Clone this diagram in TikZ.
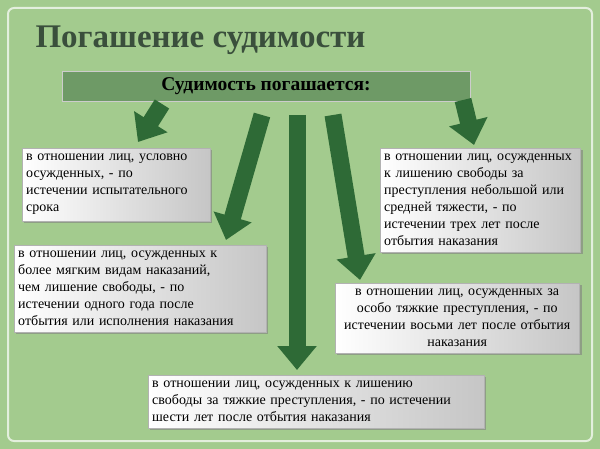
\documentclass[tikz,border=0pt]{standalone}
\usepackage{fontspec}
\setmainfont{Liberation Serif}
\usetikzlibrary{arrows.meta,shadows}
\definecolor{bggreen}{HTML}{A3CB8E}
\definecolor{bargreen}{HTML}{6E9A66}
\definecolor{arrgreen}{HTML}{2E6A36}
\definecolor{titlecol}{HTML}{3A4F3C}
\tikzset{
  box/.style={draw=gray!60,left color=white,right color=gray!45,drop shadow={opacity=0.6},
    align=left,inner xsep=4pt,inner ysep=6pt,anchor=north west,font=\fontsize{14}{17}\selectfont},
  bigarrow/.style={draw=arrgreen!70!black,line width=17pt,arrgreen,
    -{Triangle[length=24pt,width=38pt]}}
}
\def\BA#1#2{\draw[bigarrow] (#1) -- (#2);}
\begin{document}
\begin{tikzpicture}[x=1pt,y=-1pt]
  \fill[bggreen] (0,0) rectangle (600,449);
  \useasboundingbox (0,0) rectangle (600,449);
  \draw[white!70!bggreen,line width=2pt,rounded corners=6pt] (8,8) rectangle (592,441);
  \node[anchor=west,text=titlecol,font=\fontsize{33}{35}\selectfont\bfseries] (title) at (32,40) {Погашение судимости};
  \node[draw=gray!40,fill=bargreen,minimum width=408pt,minimum height=30pt,
    font=\fontsize{19.5}{21}\selectfont\bfseries] (head) at (266,86) {Судимость погашается:};
  \node[box,text width=180pt] (b1) at (22,148) {в отношении лиц, условно\\осужденных, - по\\истечении испытательного\\срока};
  \node[box,text width=244pt] (b2) at (14,245) {в отношении лиц, осужденных к\\более мягким видам наказаний,\\чем лишение свободы, - по\\истечении одного года после\\отбытия или исполнения наказания};
  \node[box,text width=192pt] (b3) at (380,148) {в отношении лиц, осужденных\\к лишению свободы за\\преступления небольшой или\\средней тяжести, - по\\истечении трех лет после\\отбытия наказания};
  \node[box,text width=236pt,align=center] (b4) at (335,283) {в отношении лиц, осужденных за\\особо тяжкие преступления, - по\\истечении восьми лет после отбытия\\наказания};
  \node[box,text width=328pt] (b5) at (148,375) {в отношении лиц, осужденных к лишению\\свободы за тяжкие преступления, - по истечении\\шести лет после отбытия наказания};
  \coordinate (s1) at (162,104);  \coordinate (e1) at (138,142);
  \coordinate (s2) at (262,115);  \coordinate (e2) at (226,240);
  \coordinate (s3) at (297,115);  \coordinate (e3) at (297,370);
  \coordinate (s4) at (333,115);  \coordinate (e4) at (360,280);
  \coordinate (s5) at (463,100);  \coordinate (e5) at (474,145);
  \BA{s1}{e1} \BA{s2}{e2} \BA{s3}{e3} \BA{s4}{e4} \BA{s5}{e5}
\end{tikzpicture}
\end{document}
